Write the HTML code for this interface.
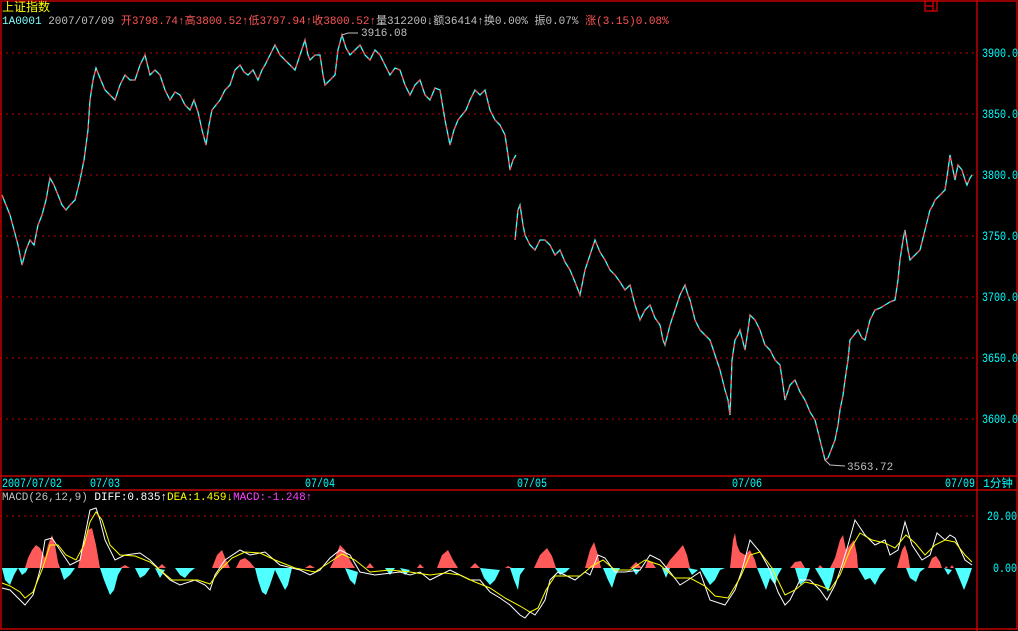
<!DOCTYPE html>
<html><head><meta charset="utf-8"><style>
html,body{margin:0;padding:0;background:#000;}
svg{display:block;}
text{font-family:"Liberation Mono","Noto Sans CJK SC",monospace;font-size:11px;}
</style></head><body>
<svg width="1018" height="631" xmlns="http://www.w3.org/2000/svg">
<rect width="1018" height="631" fill="#000"/>
<g stroke="#c00000" stroke-width="1.5" fill="none">
<rect x="1" y="1" width="1016" height="628"/>
<line x1="977" y1="0" x2="977" y2="631"/>
<line x1="0" y1="476" x2="1018" y2="476"/>
<line x1="0" y1="490" x2="1018" y2="490"/>
<rect x="925" y="1" width="12" height="10"/>
<line x1="925" y1="6" x2="933" y2="6"/>
<line x1="933" y1="1" x2="933" y2="11"/>
</g>
<g stroke="#c00000" stroke-width="1" stroke-dasharray="2,4">
<line x1="0" y1="53" x2="977" y2="53"/><line x1="0" y1="114" x2="977" y2="114"/>
<line x1="0" y1="175" x2="977" y2="175"/><line x1="0" y1="236" x2="977" y2="236"/>
<line x1="0" y1="297" x2="977" y2="297"/><line x1="0" y1="358" x2="977" y2="358"/>
<line x1="0" y1="419" x2="977" y2="419"/><line x1="0" y1="516" x2="977" y2="516"/>
</g>
<g fill="#00ffff">
<text x="982" y="57" style="font-size:12.5px" textLength="36" lengthAdjust="spacingAndGlyphs">3900.0</text>
<text x="982" y="118" style="font-size:12.5px" textLength="36" lengthAdjust="spacingAndGlyphs">3850.0</text>
<text x="982" y="179" style="font-size:12.5px" textLength="36" lengthAdjust="spacingAndGlyphs">3800.0</text>
<text x="982" y="240" style="font-size:12.5px" textLength="36" lengthAdjust="spacingAndGlyphs">3750.0</text>
<text x="982" y="301" style="font-size:12.5px" textLength="36" lengthAdjust="spacingAndGlyphs">3700.0</text>
<text x="982" y="362" style="font-size:12.5px" textLength="36" lengthAdjust="spacingAndGlyphs">3650.0</text>
<text x="982" y="423" style="font-size:12.5px" textLength="36" lengthAdjust="spacingAndGlyphs">3600.0</text>
<text x="987" y="520" style="font-size:12.5px" textLength="30" lengthAdjust="spacingAndGlyphs">20.00</text>
<text x="993" y="572" style="font-size:12.5px" textLength="24" lengthAdjust="spacingAndGlyphs">0.00</text>
<text x="2" y="487" style="font-size:12.5px" textLength="60" lengthAdjust="spacingAndGlyphs">2007/07/02</text>
<text x="90" y="487" style="font-size:12.5px" textLength="30" lengthAdjust="spacingAndGlyphs">07/03</text>
<text x="305" y="487" style="font-size:12.5px" textLength="30" lengthAdjust="spacingAndGlyphs">07/04</text>
<text x="517" y="487" style="font-size:12.5px" textLength="30" lengthAdjust="spacingAndGlyphs">07/05</text>
<text x="732" y="487" style="font-size:12.5px" textLength="30" lengthAdjust="spacingAndGlyphs">07/06</text>
<text x="945" y="487" style="font-size:12.5px" textLength="30" lengthAdjust="spacingAndGlyphs">07/09</text>
<text x="983" y="487" style="font-size:11.5px">1分钟</text>
</g>
<text x="2" y="11" fill="#ffff00" style="font-size:12px">上证指数</text>
<text x="2" y="24" style="font-size:11px"><tspan fill="#80ffff">1A0001</tspan><tspan fill="#c0c0c0"> 2007/07/09 </tspan><tspan fill="#ff5555">开3798.74↑高3800.52↑低3797.94↑收3800.52↑</tspan><tspan fill="#c0c0c0">量312200↓额36414↑换0.00% 振0.07% </tspan><tspan fill="#ff5555">涨(3.15)0.08%</tspan></text>
<text x="2" y="500" style="font-size:11px"><tspan fill="#c0c0c0">MACD(26,12,9) </tspan><tspan fill="#ffffff">DIFF:0.835↑</tspan><tspan fill="#ffff00">DEA:1.459↓</tspan><tspan fill="#ff40ff">MACD:-1.248↑</tspan></text>
<g fill="none" stroke-width="1.3">
<polyline stroke="#40ffff" points="2,195 6,205 10,215 14,230 18,245 22,265 26,250 30,240 34,245 38,225 42,215 46,200 50,178 54,185 58,195 62,205 66,210 70,205 75,200 80,180 84,160 88,130 90,100 93,80 96,68 100,78 105,90 110,95 115,100 120,85 125,75 130,80 135,80 140,65 145,55 150,75 155,70 160,75 165,90 170,100 175,92 180,95 185,105 190,110 194,100 198,112 202,130 206,145 209,125 212,110 216,105 220,100 225,90 230,85 235,70 240,65 244,72 248,75 253,70 258,80 262,70 265,65 270,55 275,45 280,55 285,60 290,65 295,70 300,55 305,40 308,55 310,60 315,55 320,55 323,75 325,85 330,80 335,75 338,50 342,35 346,48 350,55 355,50 360,45 365,55 370,60 375,50 380,55 385,65 390,75 395,68 400,70 405,85 410,95 415,85 420,80 425,95 430,100 435,88 440,90 445,120 450,145 454,130 458,120 462,115 466,110 470,100 475,90 480,95 485,90 490,110 495,120 500,125 505,135 508,155 510,170 513,160 516,155"/>
<polyline stroke="#40ffff" points="515,240 518,210 520,205 523,225 525,235 530,245 535,250 540,240 545,240 550,245 555,255 560,250 565,262 570,270 575,282 580,295 583,280 585,270 590,255 595,240 600,252 605,260 610,270 615,275 620,282 625,290 630,285 635,305 640,320 645,310 650,305 655,318 660,325 663,340 665,345 670,325 675,310 680,295 685,285 688,295 690,300 695,320 700,330 705,335 710,340 715,355 720,370 725,390 728,400 730,415 732,360 735,340 738,335 740,330 745,350 748,330 750,315 755,320 760,330 765,345 770,350 775,360 780,365 783,385 785,400 790,385 795,380 800,392 805,400 810,412 815,420 820,440 825,460 828,458 835,440 838,425 840,410 843,395 845,380 848,360 850,340 854,335 858,330 862,338 865,340 870,320 875,310 880,308 885,305 890,302 895,300 898,280 900,260 903,240 905,230 908,250 910,260 915,255 920,250 925,230 930,210 933,205 935,200 940,195 945,190 948,170 950,155 953,170 955,180 958,165 962,170 965,180 967,185 970,178 972,175"/>
<polyline stroke="#ff5050" stroke-dasharray="4,5" points="2,195 6,205 10,215 14,230 18,245 22,265 26,250 30,240 34,245 38,225 42,215 46,200 50,178 54,185 58,195 62,205 66,210 70,205 75,200 80,180 84,160 88,130 90,100 93,80 96,68 100,78 105,90 110,95 115,100 120,85 125,75 130,80 135,80 140,65 145,55 150,75 155,70 160,75 165,90 170,100 175,92 180,95 185,105 190,110 194,100 198,112 202,130 206,145 209,125 212,110 216,105 220,100 225,90 230,85 235,70 240,65 244,72 248,75 253,70 258,80 262,70 265,65 270,55 275,45 280,55 285,60 290,65 295,70 300,55 305,40 308,55 310,60 315,55 320,55 323,75 325,85 330,80 335,75 338,50 342,35 346,48 350,55 355,50 360,45 365,55 370,60 375,50 380,55 385,65 390,75 395,68 400,70 405,85 410,95 415,85 420,80 425,95 430,100 435,88 440,90 445,120 450,145 454,130 458,120 462,115 466,110 470,100 475,90 480,95 485,90 490,110 495,120 500,125 505,135 508,155 510,170 513,160 516,155"/>
<polyline stroke="#ff5050" stroke-dasharray="4,5" points="515,240 518,210 520,205 523,225 525,235 530,245 535,250 540,240 545,240 550,245 555,255 560,250 565,262 570,270 575,282 580,295 583,280 585,270 590,255 595,240 600,252 605,260 610,270 615,275 620,282 625,290 630,285 635,305 640,320 645,310 650,305 655,318 660,325 663,340 665,345 670,325 675,310 680,295 685,285 688,295 690,300 695,320 700,330 705,335 710,340 715,355 720,370 725,390 728,400 730,415 732,360 735,340 738,335 740,330 745,350 748,330 750,315 755,320 760,330 765,345 770,350 775,360 780,365 783,385 785,400 790,385 795,380 800,392 805,400 810,412 815,420 820,440 825,460 828,458 835,440 838,425 840,410 843,395 845,380 848,360 850,340 854,335 858,330 862,338 865,340 870,320 875,310 880,308 885,305 890,302 895,300 898,280 900,260 903,240 905,230 908,250 910,260 915,255 920,250 925,230 930,210 933,205 935,200 940,195 945,190 948,170 950,155 953,170 955,180 958,165 962,170 965,180 967,185 970,178 972,175"/>
</g>
<g stroke="#c0c0c0" fill="none" stroke-width="1">
<polyline points="342,35 348,33 358,33"/>
<polyline points="825,460 830,465 845,466"/>
</g>
<text x="361" y="36" fill="#c0c0c0" style="font-size:11px">3916.08</text>
<text x="847" y="470" fill="#c0c0c0" style="font-size:11px">3563.72</text>
<path fill="#ff5a5a" d="M25,568 L28,558 L32,550 L36,545 L40,548 L45,558 L48,545 L52,535 L55,545 L58,562 L60,568 Z
M78,568 L82,548 L88,530 L92,528 L96,545 L100,568 Z
M120,568 L125,565 L130,568 Z
M158,568 L162,564 L166,568 Z
M212,568 L217,555 L222,550 L226,560 L230,568 Z
M236,568 L240,560 L245,558 L250,562 L255,568 Z
M305,568 L310,565 L315,568 Z
M330,568 L335,558 L340,545 L345,550 L350,560 L355,568 Z
M366,568 L370,563 L374,568 Z
M417,568 L420,564 L424,568 Z
M437,568 L442,555 L448,550 L453,560 L458,568 Z
M470,568 L475,563 L480,568 Z
M505,568 L508,566 L512,568 Z
M534,568 L540,555 L547,548 L552,556 L556,568 Z
M585,568 L590,550 L594,542 L598,555 L601,568 Z
M630,568 L636,562 L642,568 Z
M645,568 L648,560 L652,562 L656,568 Z
M665,568 L670,560 L677,552 L683,545 L687,555 L690,568 Z
M730,568 L733,540 L735,533 L737,545 L740,552 L745,555 L750,550 L755,560 L757,568 Z
M790,568 L795,562 L801,561 L805,568 Z
M818,568 L820,565 L823,568 Z
M830,568 L835,558 L840,540 L843,535 L846,550 L850,545 L854,540 L857,555 L858,568 Z
M897,568 L902,550 L905,545 L908,555 L910,568 Z
M928,568 L932,558 L936,556 L940,562 L942,568 Z
M945,568 L946,566 L948,568 Z M950,568 L952,565 L954,568 Z"/>
<path fill="#50ffff" d="M2,568 L5,580 L10,585 L14,575 L18,568 Z
M18,568 L22,575 L26,572 L28,568 Z
M60,568 L64,580 L70,575 L75,568 Z
M100,568 L104,580 L110,595 L114,590 L118,575 L122,568 Z
M135,568 L140,578 L145,575 L150,568 Z
M155,568 L160,578 L165,570 Z
M175,568 L180,575 L185,578 L190,572 L195,568 Z
M255,568 L258,580 L262,592 L266,595 L270,585 L275,570 L280,580 L285,590 L288,585 L292,568 Z
M345,568 L350,580 L355,585 L358,572 Z
M385,568 L390,575 L395,568 Z
M400,568 L405,575 L410,570 Z
M480,568 L484,578 L490,585 L495,580 L500,570 Z
M510,568 L514,580 L518,590 L520,575 L525,568 Z
M555,568 L560,575 L566,572 L570,568 Z
M603,568 L608,580 L612,588 L616,575 L620,568 Z
M632,568 L636,575 L640,570 Z
M662,568 L666,578 L670,568 Z
M688,568 L692,575 L698,570 Z
M700,568 L704,575 L710,585 L715,580 L720,570 L725,568 Z
M757,568 L762,580 L766,590 L770,578 L775,585 L778,575 L782,568 Z
M795,568 L800,585 L806,580 L810,568 Z
M815,568 L822,580 L828,592 L832,580 L835,568 Z
M858,568 L865,580 L870,578 L875,585 L880,575 L886,568 Z
M906,568 L910,578 L916,582 L920,572 L925,568 Z
M944,568 L948,575 L952,570 Z
M955,568 L960,580 L964,590 L968,580 L972,568 Z"/>
<g fill="none" stroke-width="1">
<polyline stroke="#ffffff" points="2,588 10,590 20,600 25,605 33,595 40,570 45,540 52,538 60,550 70,565 80,560 86,530 90,510 96,508 100,520 105,540 115,560 125,555 140,553 150,560 160,570 170,580 180,585 195,580 205,585 210,590 215,575 225,560 240,550 250,555 265,552 280,565 300,570 310,575 320,570 330,558 340,550 350,555 360,572 375,575 400,572 410,575 420,572 430,580 440,575 450,570 460,575 470,580 480,580 490,592 500,598 510,605 515,610 520,615 525,618 530,612 535,615 540,608 545,600 550,580 558,572 565,575 575,580 585,572 590,575 598,555 605,558 615,572 625,572 640,570 650,555 660,560 670,572 680,585 688,580 700,572 710,600 725,605 735,590 742,570 750,540 760,552 770,570 778,592 785,605 790,600 800,580 810,580 820,590 827,600 835,585 842,565 848,545 855,520 865,535 875,545 885,540 890,555 898,550 905,522 912,545 922,560 930,555 937,533 945,540 950,535 955,538 965,560 972,565"/>
<polyline stroke="#ffff00" points="2,583 10,586 20,592 25,598 33,592 42,570 50,545 58,545 66,555 76,560 84,545 90,522 96,512 102,520 110,545 120,555 135,556 150,562 160,570 172,580 185,580 198,580 210,584 220,570 232,558 245,552 260,553 275,560 295,568 315,572 330,562 342,554 355,560 370,572 390,570 410,572 430,575 445,573 460,575 475,582 490,588 505,598 520,606 530,612 538,608 546,590 555,576 565,576 580,576 592,566 603,560 615,570 630,570 645,560 660,565 675,578 690,578 705,586 715,596 728,598 740,578 750,555 760,552 772,568 785,595 795,590 805,582 818,585 830,590 840,575 850,550 860,533 872,540 885,543 895,548 906,535 915,543 925,555 935,545 945,540 955,542 965,555 972,562"/>
</g>
</svg>
</body></html>
